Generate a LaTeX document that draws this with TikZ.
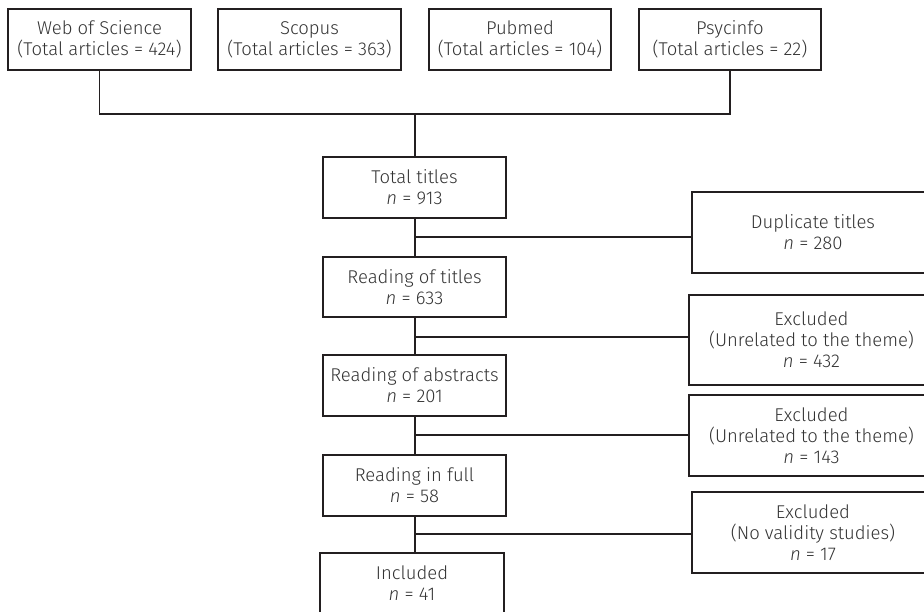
\documentclass[tikz,border=0pt]{standalone}
\usepackage{fontspec}
\IfFontExistsTF{Fira Sans Light}{\setmainfont{Fira Sans Light}}{\setmainfont{Fira Sans}}
\definecolor{ink}{HTML}{231F20}
\definecolor{txt}{HTML}{333333}
\begin{document}
\begin{tikzpicture}[x=1pt,y=1pt,
  fbox/.style={draw=ink, line width=1.3pt, align=center, inner sep=0pt, text=txt,
    font=\fontsize{18.5}{21}\selectfont},
  link/.style={draw=ink, line width=1.3pt}]
\useasboundingbox (0,0) rectangle (924,-611);
\clip (0,0) rectangle (924,-611);
% sources
\node[fbox, minimum width=183, minimum height=61] (wos) at (99.5,-39.5) {Web of Science\\(Total articles = 424)};
\node[fbox, minimum width=183, minimum height=61] (sco) at (309.5,-39.5) {Scopus\\(Total articles = 363)};
\node[fbox, minimum width=182, minimum height=61] (pub) at (520,-39.5) {Pubmed\\(Total articles = 104)};
\node[fbox, minimum width=182, minimum height=61] (psy) at (730,-39.5) {Psycinfo\\(Total articles = 22)};
% main chain
\node[fbox, minimum width=183, minimum height=61] (tot) at (414.5,-187.5) {Total titles\\\textit{n} = 913};
\node[fbox, minimum width=183, minimum height=60] (rti) at (414.5,-287) {Reading of titles\\\textit{n} = 633};
\node[fbox, minimum width=183, minimum height=61] (rab) at (414.5,-385.5) {Reading of abstracts\\\textit{n} = 201};
\node[fbox, minimum width=183, minimum height=61] (rfu) at (414.5,-485.5) {Reading in full\\\textit{n} = 58};
\node[fbox, minimum width=184, minimum height=61] (inc) at (412,-583.5) {Included\\\textit{n} = 41};
% exclusions
\node[fbox, minimum width=242, minimum height=81] (dup) at (813,-232.5) {Duplicate titles\\\textit{n} = 280};
\node[fbox, minimum width=245, minimum height=90] (ex1) at (811.5,-340) {Excluded\\(Unrelated to the theme)\\\textit{n} = 432};
\node[fbox, minimum width=245, minimum height=81] (ex2) at (811.5,-435.5) {Excluded\\(Unrelated to the theme)\\\textit{n} = 143};
\node[fbox, minimum width=242, minimum height=81] (ex3) at (813,-532.5) {Excluded\\(No validity studies)\\\textit{n} = 17};
% merge of sources
\coordinate (mj) at (415,-114);
\draw[link] (wos.south) -- (wos.south |- mj) -- (psy.south |- mj) -- (psy.south);
\draw[link] (mj) -- (mj |- tot.north);
% chain
\coordinate (b1) at (415,-237);
\coordinate (b2) at (415,-337);
\coordinate (b3) at (415,-435);
\coordinate (b4) at (415,-534);
\draw[link] (b1 |- tot.south) -- (b1 |- rti.north);
\draw[link] (b1 |- rti.south) -- (b1 |- rab.north);
\draw[link] (b1 |- rab.south) -- (b1 |- rfu.north);
\draw[link] (b1 |- rfu.south) -- (b1 |- inc.north);
\draw[link] (b1) -- (b1 -| dup.west);
\draw[link] (b2) -- (b2 -| ex1.west);
\draw[link] (b3) -- (b3 -| ex2.west);
\draw[link] (b4) -- (b4 -| ex3.west);
\end{tikzpicture}
\end{document}
